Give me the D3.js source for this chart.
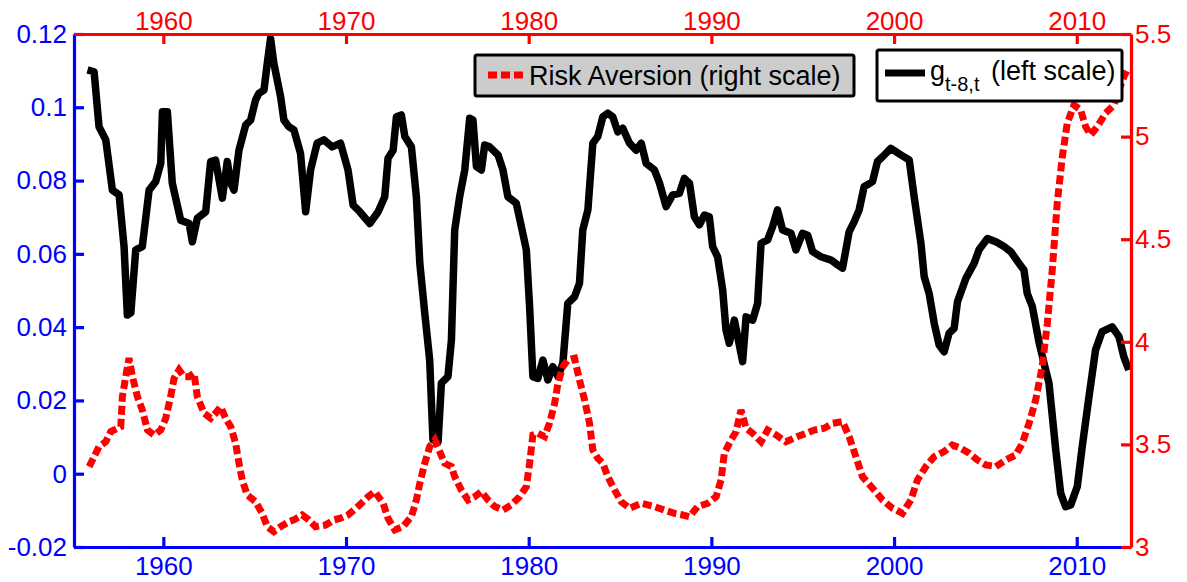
<html>
  <head>
	<title>Risk aversion and g</title>
	<script src="https://cdn.jsdelivr.net/npm/d3@7/dist/d3.min.js" type="text/javascript" charset="utf-8"></script>
	<style>
	  body { margin: 0; background: #fff; }
	  text { font-family: "Liberation Sans", Arial, sans-serif; }
	</style>
  </head>
  <body>
	<svg></svg>
  </body>
  <script type="text/javascript">
	// values: [year, value]
	var gSeries = [
	  [1955.85,0.1102],[1956.21,0.1097],[1956.48,0.0947],[1956.85,0.0911],[1957.21,0.0774],[1957.58,0.0761],[1957.85,0.0620],[1958.03,0.0433],
	  [1958.22,0.0439],[1958.49,0.0611],[1958.85,0.0620],[1959.22,0.0774],[1959.58,0.0797],[1959.86,0.0847],[1959.95,0.0988],[1960.22,0.0988],
	  [1960.49,0.0793],[1960.95,0.0692],[1961.41,0.0683],[1961.59,0.0633],[1961.86,0.0697],[1962.32,0.0715],[1962.59,0.0852],[1962.86,0.0856],
	  [1963.23,0.0752],[1963.50,0.0852],[1963.69,0.0793],[1963.87,0.0774],[1964.14,0.0883],[1964.51,0.0952],[1964.78,0.0965],[1965.05,0.1020],
	  [1965.23,0.1038],[1965.51,0.1047],[1965.69,0.1120],[1965.87,0.1188],[1966.05,0.1120],[1966.42,0.1029],[1966.60,0.0965],[1966.87,0.0947],
	  [1967.15,0.0938],[1967.51,0.0874],[1967.79,0.0715],[1968.06,0.0829],[1968.42,0.0902],[1968.79,0.0911],[1969.24,0.0892],[1969.70,0.0902],
	  [1970.11,0.0829],[1970.39,0.0733],[1970.75,0.0715],[1971.30,0.0683],[1971.76,0.0715],[1972.12,0.0756],[1972.30,0.0861],[1972.58,0.0883],
	  [1972.76,0.0974],[1973.03,0.0979],[1973.22,0.0920],[1973.58,0.0892],[1973.85,0.0756],[1974.04,0.0574],[1974.31,0.0438],[1974.58,0.0310],
	  [1974.76,0.0092],[1975.04,0.0087],[1975.22,0.0247],[1975.58,0.0265],[1975.77,0.0365],[1975.95,0.0665],[1976.22,0.0756],[1976.50,0.0829],
	  [1976.77,0.0970],[1976.95,0.0965],[1977.14,0.0838],[1977.41,0.0829],[1977.59,0.0897],[1977.86,0.0892],[1978.32,0.0870],[1978.59,0.0829],
	  [1978.86,0.0756],[1979.32,0.0738],[1979.60,0.0674],[1979.87,0.0611],[1980.05,0.0456],[1980.23,0.0265],[1980.50,0.0260],[1980.78,0.0310],
	  [1981.05,0.0256],[1981.32,0.0292],[1981.60,0.0265],[1981.87,0.0301],[1982.14,0.0465],[1982.51,0.0483],[1982.78,0.0520],[1982.96,0.0665],
	  [1983.24,0.0720],[1983.51,0.0902],[1983.78,0.0920],[1984.06,0.0974],[1984.33,0.0984],[1984.60,0.0974],[1984.88,0.0933],[1985.15,0.0943],
	  [1985.52,0.0902],[1985.88,0.0883],[1986.16,0.0902],[1986.43,0.0847],[1986.88,0.0829],[1987.16,0.0793],[1987.52,0.0729],[1987.88,0.0761],
	  [1988.25,0.0765],[1988.52,0.0806],[1988.80,0.0793],[1989.07,0.0701],[1989.34,0.0679],[1989.62,0.0706],[1989.89,0.0701],[1990.07,0.0620],
	  [1990.34,0.0592],[1990.62,0.0501],[1990.80,0.0392],[1990.98,0.0356],[1991.26,0.0419],[1991.44,0.0374],[1991.71,0.0306],[1991.90,0.0428],
	  [1992.26,0.0419],[1992.53,0.0465],[1992.72,0.0629],[1993.08,0.0638],[1993.35,0.0674],[1993.62,0.0720],[1993.90,0.0665],[1994.36,0.0656],
	  [1994.63,0.0611],[1994.99,0.0656],[1995.27,0.0651],[1995.54,0.0606],[1996.00,0.0592],[1996.55,0.0583],[1996.91,0.0570],[1997.18,0.0561],
	  [1997.54,0.0660],[1997.82,0.0688],[1998.09,0.0720],[1998.36,0.0783],[1998.82,0.0797],[1999.09,0.0852],[1999.37,0.0865],[1999.82,0.0888],
	  [2000.37,0.0870],[2000.83,0.0856],[2001.10,0.0756],[2001.47,0.0629],[2001.65,0.0538],[2001.92,0.0492],[2002.20,0.0410],[2002.47,0.0351],
	  [2002.74,0.0333],[2003.01,0.0383],[2003.29,0.0397],[2003.47,0.0469],[2003.93,0.0533],[2004.38,0.0574],[2004.65,0.0611],[2005.11,0.0642],
	  [2005.57,0.0633],[2006.02,0.0620],[2006.39,0.0606],[2006.84,0.0574],[2007.11,0.0556],[2007.29,0.0492],[2007.57,0.0456],[2007.93,0.0360],
	  [2008.21,0.0301],[2008.48,0.0247],[2008.85,0.0065],[2009.12,-0.0053],[2009.39,-0.0090],[2009.67,-0.0085],[2010.03,-0.0035],[2010.30,0.0074],
	  [2010.67,0.0210],[2011.03,0.0338],[2011.39,0.0388],[2011.94,0.0401],[2012.31,0.0374],[2012.58,0.0319],[2012.85,0.0283]
	];
	var riskSeries = [
	  [1955.94,3.392],[1956.21,3.440],[1956.48,3.489],[1956.85,3.513],[1957.12,3.562],[1957.67,3.586],[1957.76,3.733],[1957.94,3.830],
	  [1958.12,3.920],[1958.31,3.830],[1958.58,3.733],[1958.85,3.668],[1959.13,3.570],[1959.49,3.546],[1959.86,3.570],[1960.13,3.627],
	  [1960.40,3.733],[1960.59,3.822],[1960.86,3.863],[1961.13,3.830],[1961.41,3.830],[1961.68,3.847],[1961.86,3.733],[1962.23,3.652],
	  [1962.59,3.627],[1962.86,3.652],[1963.14,3.684],[1963.41,3.627],[1963.69,3.586],[1963.96,3.505],[1964.14,3.408],[1964.32,3.327],
	  [1964.59,3.254],[1965.05,3.221],[1965.41,3.164],[1965.69,3.099],[1966.05,3.075],[1966.42,3.099],[1966.87,3.123],[1967.15,3.132],
	  [1967.60,3.156],[1967.97,3.132],[1968.33,3.099],[1968.88,3.107],[1969.33,3.132],[1969.70,3.140],[1970.11,3.156],[1970.75,3.205],
	  [1971.21,3.245],[1971.57,3.270],[1972.03,3.213],[1972.30,3.140],[1972.67,3.083],[1973.12,3.099],[1973.58,3.148],[1973.85,3.229],
	  [1974.04,3.311],[1974.31,3.408],[1974.58,3.489],[1974.86,3.522],[1975.13,3.465],[1975.40,3.408],[1975.77,3.392],[1975.95,3.343],
	  [1976.31,3.278],[1976.68,3.229],[1977.04,3.245],[1977.41,3.270],[1977.77,3.229],[1978.14,3.197],[1978.59,3.180],[1979.05,3.205],
	  [1979.50,3.245],[1979.87,3.294],[1980.05,3.408],[1980.23,3.546],[1980.50,3.554],[1980.87,3.538],[1981.14,3.603],[1981.42,3.700],
	  [1981.60,3.798],[1981.87,3.879],[1982.14,3.911],[1982.51,3.920],[1982.78,3.814],[1983.06,3.716],[1983.33,3.603],[1983.51,3.473],
	  [1983.78,3.432],[1984.06,3.408],[1984.33,3.343],[1984.70,3.278],[1985.06,3.221],[1985.52,3.189],[1986.16,3.213],[1986.88,3.197],
	  [1987.43,3.180],[1987.98,3.164],[1988.43,3.156],[1988.80,3.148],[1989.25,3.197],[1989.80,3.213],[1990.26,3.245],[1990.53,3.327],
	  [1990.71,3.457],[1991.08,3.522],[1991.35,3.562],[1991.62,3.668],[1991.90,3.579],[1992.26,3.554],[1992.72,3.513],[1993.08,3.570],
	  [1993.54,3.546],[1994.08,3.513],[1994.72,3.538],[1995.18,3.554],[1995.63,3.570],[1996.18,3.579],[1996.63,3.603],[1997.18,3.611],
	  [1997.54,3.538],[1997.91,3.440],[1998.27,3.343],[1998.91,3.278],[1999.37,3.229],[1999.91,3.189],[2000.46,3.164],[2000.92,3.229],
	  [2001.28,3.327],[2001.74,3.392],[2002.19,3.440],[2002.74,3.465],[2003.19,3.497],[2003.65,3.481],[2004.11,3.457],[2004.56,3.424],
	  [2005.02,3.400],[2005.57,3.392],[2006.11,3.424],[2006.66,3.448],[2007.02,3.505],[2007.39,3.603],[2007.75,3.716],[2008.11,3.879],
	  [2008.39,4.090],[2008.66,4.350],[2008.93,4.675],[2009.21,4.902],[2009.48,5.065],[2009.85,5.154],[2010.21,5.130],[2010.49,5.048],
	  [2010.76,5.008],[2011.12,5.048],[2011.58,5.114],[2012.04,5.154],[2012.31,5.227],[2012.58,5.292],[2012.76,5.325]
	];
	var yearTicks = [1960, 1970, 1980, 1990, 2000, 2010];
	var leftTicks = [-0.02, 0, 0.02, 0.04, 0.06, 0.08, 0.1, 0.12];
	var rightTicks = [3, 3.5, 4, 4.5, 5, 5.5];
	var legendLabels = ['Risk Aversion (right scale)', 'g', 't-8,t', '(left scale)'];

	(function() {
	  var left = 74, right = 1131, top = 34, bottom = 547;
	  var svg = d3.select('svg')
				.attr('width', 1187)
				.attr('height', 582);
	  svg.append('rect').attr('width', 1187).attr('height', 582).attr('fill', '#fff');

	  var x = d3.scaleLinear().domain([1955.11, 2012.97]).range([left, right]),
		  yL = d3.scaleLinear().domain([-0.02, 0.12]).range([bottom, top]),
		  yR = d3.scaleLinear().domain([3, 5.5]).range([bottom, top]);

	  var gLine = d3.line()
			.x(function(d) { return x(d[0]); })
			.y(function(d) { return yL(d[1]); });
	  var rLine = d3.line()
			.x(function(d) { return x(d[0]); })
			.y(function(d) { return yR(d[1]); });

	  svg.append('path')
		 .datum(gSeries)
		 .attr('d', gLine)
		 .attr('fill', 'none')
		 .attr('stroke', '#000')
		 .attr('stroke-width', 7.5)
		 .attr('stroke-linejoin', 'round');
	  svg.append('path')
		 .datum(riskSeries)
		 .attr('d', rLine)
		 .attr('fill', 'none')
		 .attr('stroke', '#f00')
		 .attr('stroke-width', 7)
		 .attr('stroke-dasharray', '9,4');

	  function styleAxis(g, color, size) {
		g.selectAll('path, line').attr('stroke', color).attr('stroke-width', 3.2);
		g.selectAll('text').attr('fill', color).style('font-size', size + 'px');
		g.attr('font-family', null);
	  }
	  var fmt = function(d) { return d === 0 ? '0' : String(+d.toFixed(2)); };

	  // blue axes (left scale)
	  svg.append('g')
		 .attr('transform', 'translate(0,' + bottom + ')')
		 .call(d3.axisBottom(x).tickValues(yearTicks).tickFormat(d3.format('d'))
				 .tickSizeInner(-10).tickSizeOuter(0).tickPadding(10))
		 .call(styleAxis, '#00f', 26);
	  svg.append('g')
		 .attr('transform', 'translate(' + left + ',0)')
		 .call(d3.axisLeft(yL).tickValues(leftTicks).tickFormat(fmt)
				 .tickSizeInner(-10).tickSizeOuter(0).tickPadding(7))
		 .call(styleAxis, '#00f', 26);

	  // red axes (right scale)
	  svg.append('g')
		 .attr('transform', 'translate(0,' + top + ')')
		 .call(d3.axisTop(x).tickValues(yearTicks).tickFormat(d3.format('d'))
				 .tickSizeInner(-10).tickSizeOuter(0).tickPadding(4))
		 .call(styleAxis, '#f00', 26);
	  svg.append('g')
		 .attr('transform', 'translate(' + right + ',0)')
		 .call(d3.axisRight(yR).tickValues(rightTicks).tickFormat(function(d) { return String(d); })
				 .tickSizeInner(-10).tickSizeOuter(0).tickPadding(4))
		 .call(styleAxis, '#f00', 26);

	  // legends
	  var leg1 = svg.append('g');
	  leg1.append('rect')
		  .attr('x', 475).attr('y', 55).attr('width', 379).attr('height', 41)
		  .attr('rx', 2).attr('fill', '#ccc').attr('stroke', '#000').attr('stroke-width', 3);
	  leg1.append('line')
		  .attr('x1', 488).attr('x2', 523).attr('y1', 75).attr('y2', 75)
		  .attr('stroke', '#f00').attr('stroke-width', 7).attr('stroke-dasharray', '9,4');
	  leg1.append('text')
		  .attr('x', 529).attr('y', 85)
		  .style('font-size', '27px')
		  .attr('fill', '#000')
		  .text(legendLabels[0]);

	  var leg2 = svg.append('g');
	  leg2.append('rect')
		  .attr('x', 877).attr('y', 50).attr('width', 245).attr('height', 51)
		  .attr('rx', 2).attr('fill', '#fff').attr('stroke', '#000').attr('stroke-width', 3);
	  leg2.append('line')
		  .attr('x1', 885).attr('x2', 925).attr('y1', 73).attr('y2', 73)
		  .attr('stroke', '#000').attr('stroke-width', 7);
	  var t2 = leg2.append('text')
		  .attr('x', 930).attr('y', 80)
		  .style('font-size', '27px')
		  .attr('fill', '#000');
	  t2.append('tspan').text(legendLabels[1]);
	  t2.append('tspan').attr('dy', 11).style('font-size', '20px').text(legendLabels[2]);
	  t2.append('tspan').attr('x', 991).attr('y', 80).text(legendLabels[3]);
	})();
  </script>
</html>
